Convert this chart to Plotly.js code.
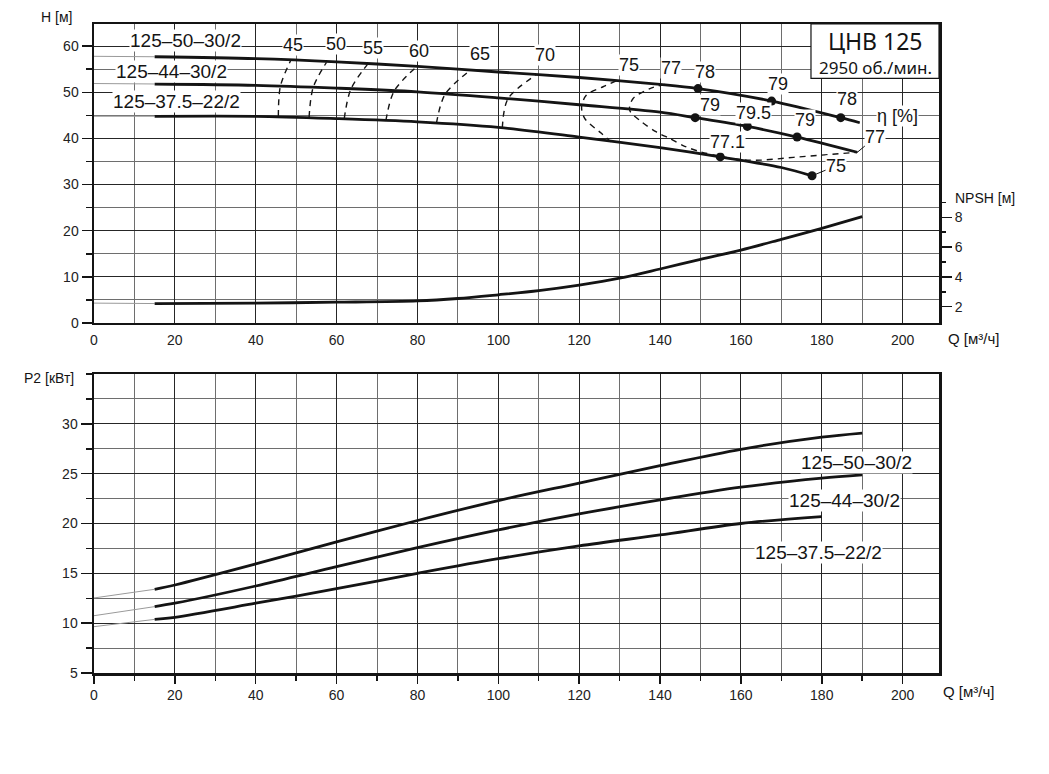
<!DOCTYPE html>
<html><head><meta charset="utf-8">
<script src="https://cdn.plot.ly/plotly-3.0.1.min.js"></script>
<style>html,body{margin:0;padding:0;background:#fff}#chart{width:1049px;height:774px}</style>
</head><body><div id="chart"></div>
<script>
// ---------- data ----------
// Head curves H [м] vs Q [м³/ч]
const headStartQ = [0, 15];
const h50Start = [57.8, 57.7];
const h44Start = [51.9, 51.8];
const h37Start = [44.8, 44.8];
const h50Q = [15, 40, 60, 80, 100, 120, 140, 149.4, 167.6, 184.7, 189.4];
const h50H = [57.7, 57.3, 56.6, 55.6, 54.4, 53.2, 51.7, 50.8, 48.1, 44.5, 43.4];
const h44Q = [15, 40, 60, 80, 100, 120, 140, 148.7, 161.6, 173.9, 188.8];
const h44H = [51.8, 51.5, 50.9, 50.1, 48.8, 47.3, 45.7, 44.5, 42.6, 40.3, 37.0];
const h37Q = [15, 40, 60, 80, 100, 120, 140, 154.9, 170, 177.6];
const h37H = [44.8, 44.8, 44.3, 43.6, 42.4, 40.3, 38.0, 36.0, 33.7, 31.9];

// NPSH [м]
const npshStartQ = [0, 15];
const npshStart = [2.24, 2.21];
const npshQ = [15, 40, 60, 80, 90, 100, 110, 120, 130, 140, 150, 160, 170, 180, 190];
const npshV = [2.21, 2.24, 2.30, 2.39, 2.55, 2.80, 3.08, 3.45, 3.91, 4.53, 5.18, 5.80, 6.52, 7.26, 8.04];

// Power P2 [кВт]
const p50Start = [12.53, 13.4];
const p44Start = [10.75, 11.66];
const p37Start = [9.65, 10.38];
const p50Q = [15, 20, 40, 60, 80, 100, 120, 140, 160, 180, 190];
const p50V = [13.4, 13.83, 15.94, 18.15, 20.3, 22.3, 24.05, 25.8, 27.45, 28.66, 29.07];
const p44Q = [15, 20, 40, 60, 80, 100, 120, 140, 160, 180, 190];
const p44V = [11.66, 12.0, 13.73, 15.67, 17.58, 19.36, 20.96, 22.37, 23.64, 24.55, 24.88];
const p37Q = [15, 20, 40, 60, 80, 100, 120, 140, 160, 180];
const p37V = [10.38, 10.59, 12.0, 13.46, 15.0, 16.47, 17.75, 18.85, 20.0, 20.7];

// Iso-efficiency lines (dashed)
const iso45Q = [45.6, 46.1, 48.6], iso45H = [44.8, 51.3, 56.8];
const iso50Q = [53.2, 54.2, 57.5], iso50H = [44.6, 51.0, 56.5];
const iso55Q = [61.9, 63.5, 67.6], iso55H = [44.3, 50.6, 56.0];
const iso60Q = [72.2, 74.2, 79.6], iso60H = [43.9, 50.2, 55.4];
const iso65Q = [84.7, 86.8, 92.8], iso65H = [43.3, 49.5, 54.6];
const iso70Q = [101.0, 102.4, 109.4], iso70H = [42.3, 48.6, 53.8];
const iso75Q = [129.2, 125.9, 121.8, 120.6, 121.4, 125.5, 127.8];
const iso75H = [52.5, 51.2, 49.4, 46.8, 44.3, 41.1, 39.3];
const iso77Q = [141.2, 137.5, 133.3, 132.5, 135.0, 139.1, 142.4, 146.1, 150.0, 155.0, 160.0, 165.0, 173.0, 188.8];
const iso77H = [51.7, 50.8, 48.6, 46.1, 43.9, 41.4, 40.0, 38.3, 37.1, 36.1, 35.4, 35.3, 35.9, 37.0];

// Efficiency points (dots)
const effPtQ = [149.4, 167.6, 184.7, 148.7, 161.6, 173.9, 154.9, 177.6];
const effPtH = [50.8, 48.1, 44.5, 44.5, 42.6, 40.3, 36.0, 31.9];

// Efficiency labels
const isoLblText = ['45', '50', '55', '60', '65', '70'];
const isoLblQ = [49.3, 59.8, 68.9, 80.4, 95.4, 111.5];
const isoLblH = [60.2, 60.4, 59.5, 59.0, 58.4, 58.0];
const effLblText = ['75', '77', '78', '79', '78', '79', '79.5', '79', '77.1'];
const effLblQ = [132.3, 142.8, 151.1, 169.2, 186.2, 152.3, 163.0, 175.9, 156.8];
const effLblH = [55.9, 55.2, 54.4, 51.9, 48.5, 47.2, 45.5, 44.0, 39.3];
const endLblText = ['77', '75'];
const endLblQ = [188.8, 177.6];
const endLblH = [37.0, 31.9];

const pumpNames = ['125–50–30/2', '125–44–30/2', '125–37.5–22/2'];
const nameTopQ = [22.6, 19.2, 20.3];
const nameTopH = [61.3, 54.6, 48.1];
const nameBotQ = [188.5, 185.6, 179.3];
const nameBotP = [26.1, 22.3, 17.1];

const hTicks = [0, 10, 20, 30, 40, 50, 60];
const npshTicks = [2, 4, 6, 8];
const npshMinor = [3, 5, 7, 9];
const pTicks = [5, 10, 15, 20, 25, 30];

// ---------- drawing ----------
const BLACK = '#141414';
const FONT = '"Liberation Sans", Arial, Helvetica, sans-serif';
const traces = [];
function addLine(x, y, xa, ya, width, color, dash) {
  traces.push({x: x, y: y, xaxis: xa, yaxis: ya, type: 'scatter', mode: 'lines',
    line: {color: color, width: width, shape: 'spline', smoothing: 0.9, dash: dash || 'solid'},
    hoverinfo: 'skip'});
}
// thin start segments
addLine(headStartQ, h50Start, 'x', 'y', 1, '#9a9a9a');
addLine(headStartQ, h44Start, 'x', 'y', 1, '#9a9a9a');
addLine(headStartQ, h37Start, 'x', 'y', 1, '#9a9a9a');
addLine(npshStartQ, npshStart, 'x', 'y3', 1, '#9a9a9a');
addLine(headStartQ, p50Start, 'x2', 'y2', 1, '#9a9a9a');
addLine(headStartQ, p44Start, 'x2', 'y2', 1, '#9a9a9a');
addLine(headStartQ, p37Start, 'x2', 'y2', 1, '#9a9a9a');
// iso efficiency dashed
const DASH = '6px,5px';
[[iso45Q, iso45H], [iso50Q, iso50H], [iso55Q, iso55H], [iso60Q, iso60H],
 [iso65Q, iso65H], [iso70Q, iso70H], [iso75Q, iso75H], [iso77Q, iso77H]].forEach(function (p) {
  addLine(p[0], p[1], 'x', 'y', 1.4, BLACK, DASH);
});
// main curves
addLine(h50Q, h50H, 'x', 'y', 2.8, BLACK);
addLine(h44Q, h44H, 'x', 'y', 2.8, BLACK);
addLine(h37Q, h37H, 'x', 'y', 2.8, BLACK);
addLine(npshQ, npshV, 'x', 'y3', 2.8, BLACK);
addLine(p50Q, p50V, 'x2', 'y2', 2.8, BLACK);
addLine(p44Q, p44V, 'x2', 'y2', 2.8, BLACK);
addLine(p37Q, p37V, 'x2', 'y2', 2.8, BLACK);
// efficiency dots
traces.push({x: effPtQ, y: effPtH, xaxis: 'x', yaxis: 'y', type: 'scatter', mode: 'markers',
  marker: {color: BLACK, size: 9}, hoverinfo: 'skip'});

// annotations
const ann = [];
function lbl(x, y, t, xr, yr, size, fam, extra) {
  const a = {x: x, y: y, xref: xr, yref: yr, text: t, showarrow: false,
    xanchor: 'center', yanchor: 'middle',
    font: {family: fam || FONT, size: size, color: BLACK}, bgcolor: 'white', borderpad: 0};
  Object.assign(a, extra || {});
  ann.push(a);
}
for (let i = 0; i < pumpNames.length; i++) {
  lbl(nameTopQ[i], nameTopH[i], pumpNames[i], 'x', 'y', 19);
  lbl(nameBotQ[i], nameBotP[i], pumpNames[i], 'x2', 'y2', 19);
}
for (let i = 0; i < isoLblText.length; i++) lbl(isoLblQ[i], isoLblH[i], isoLblText[i], 'x', 'y', 18);
for (let i = 0; i < effLblText.length; i++) lbl(effLblQ[i], effLblH[i], effLblText[i], 'x', 'y', 18);
const endOff = [[18, -15], [24, -10]];
for (let i = 0; i < endLblText.length; i++) {
  lbl(endLblQ[i], endLblH[i], endLblText[i], 'x', 'y', 18, FONT,
    {showarrow: true, arrowhead: 0, arrowwidth: 1, arrowcolor: BLACK, ax: endOff[i][0], ay: endOff[i][1], standoff: 0});
}
lbl(198.8, 44.8, 'η [%]', 'x', 'y', 18);

// axis titles & box text (paper coords)
const plain = {bgcolor: 'rgba(0,0,0,0)'};
lbl(-0.044, 1.011, 'H [м]', 'paper', 'paper', 14, FONT, plain);
lbl(1.0405, 0.516, 'Q [м³/ч]', 'paper', 'paper', 15, FONT, plain);
lbl(1.055, 0.732, 'NPSH [м]', 'paper', 'paper', 14, FONT, plain);
lbl(-0.053, 0.4545, 'P2 [кВт]', 'paper', 'paper', 14, FONT, plain);
lbl(1.035, -0.028, 'Q [м³/ч]', 'paper', 'paper', 15, FONT, plain);
lbl(0.9243, 0.9745, 'ЦНВ 125', 'paper', 'paper', 23, '"Noto Sans", "Open Sans", sans-serif', plain);
lbl(0.9243, 0.9335, '2950 об./мин.', 'paper', 'paper', 17, '"Noto Sans", "Open Sans", sans-serif', plain);

const tickFont = {family: FONT, size: 14, color: '#222'};
const axLine = {showline: true, linewidth: 2.5, linecolor: BLACK, mirror: true, zeroline: false};
const MAJ = '#262626', MIN = '#6e6e6e';
const layout = {
  width: 1049, height: 774,
  margin: {l: 94, r: 110, t: 24, b: 101},
  paper_bgcolor: 'white', plot_bgcolor: 'white',
  showlegend: false, hovermode: false,
  xaxis: Object.assign({domain: [0, 1], anchor: 'y', range: [0, 209], dtick: 20, tick0: 0,
    ticks: 'outside', ticklen: 3, tickcolor: 'rgba(0,0,0,0)', tickfont: tickFont,
    showgrid: true, gridcolor: MAJ, gridwidth: 1,
    minor: {dtick: 10, showgrid: true, gridcolor: MIN, gridwidth: 1}}, axLine),
  yaxis: Object.assign({domain: [0.5393, 1], anchor: 'x', range: [0, 64.8], tickmode: 'array', tickvals: hTicks,
    ticks: 'outside', ticklen: 10, tickwidth: 1.5, tickcolor: BLACK, tickfont: tickFont,
    showgrid: true, gridcolor: MAJ, gridwidth: 1,
    minor: {dtick: 5, tick0: 0, ticks: 'outside', ticklen: 6, tickwidth: 1.5, tickcolor: BLACK, showgrid: true, gridcolor: MIN, gridwidth: 1}}, axLine),
  yaxis3: {overlaying: 'y', side: 'right', anchor: 'x', range: [0.906, 20.97],
    tickmode: 'array', tickvals: npshTicks, ticks: 'outside', ticklen: 12, tickwidth: 1.5, tickcolor: BLACK,
    tickfont: tickFont, showgrid: false, zeroline: false, showline: false,
    minor: {tickmode: 'array', tickvals: npshMinor, ticks: 'outside', ticklen: 6, tickwidth: 1.5, tickcolor: BLACK, showgrid: false}},
  xaxis2: Object.assign({domain: [0, 1], anchor: 'y2', range: [0, 209], dtick: 20, tick0: 0,
    ticks: 'outside', ticklen: 8, tickwidth: 1.5, tickcolor: BLACK, tickfont: tickFont,
    showgrid: true, gridcolor: MAJ, gridwidth: 1,
    minor: {dtick: 10, ticks: 'outside', ticklen: 5, tickwidth: 1.5, tickcolor: BLACK, showgrid: true, gridcolor: MIN, gridwidth: 1}}, axLine),
  yaxis2: Object.assign({domain: [0, 0.4607], anchor: 'x2', range: [5, 35], tickmode: 'array', tickvals: pTicks,
    ticks: 'outside', ticklen: 11, tickwidth: 1.5, tickcolor: BLACK, tickfont: tickFont,
    showgrid: true, gridcolor: MAJ, gridwidth: 1,
    minor: {dtick: 2.5, tick0: 0, ticks: 'outside', ticklen: 6, tickwidth: 1.5, tickcolor: BLACK, showgrid: true, gridcolor: MIN, gridwidth: 1}}, axLine),
  shapes: [{type: 'rect', xref: 'paper', yref: 'paper', x0: 0.8485, x1: 1, y0: 0.9163, y1: 1,
    line: {color: BLACK, width: 1.2}, fillcolor: 'white', layer: 'above'}],
  annotations: ann
};
Plotly.newPlot('chart', traces, layout, {staticPlot: true, displayModeBar: false});
</script>
</body></html>
